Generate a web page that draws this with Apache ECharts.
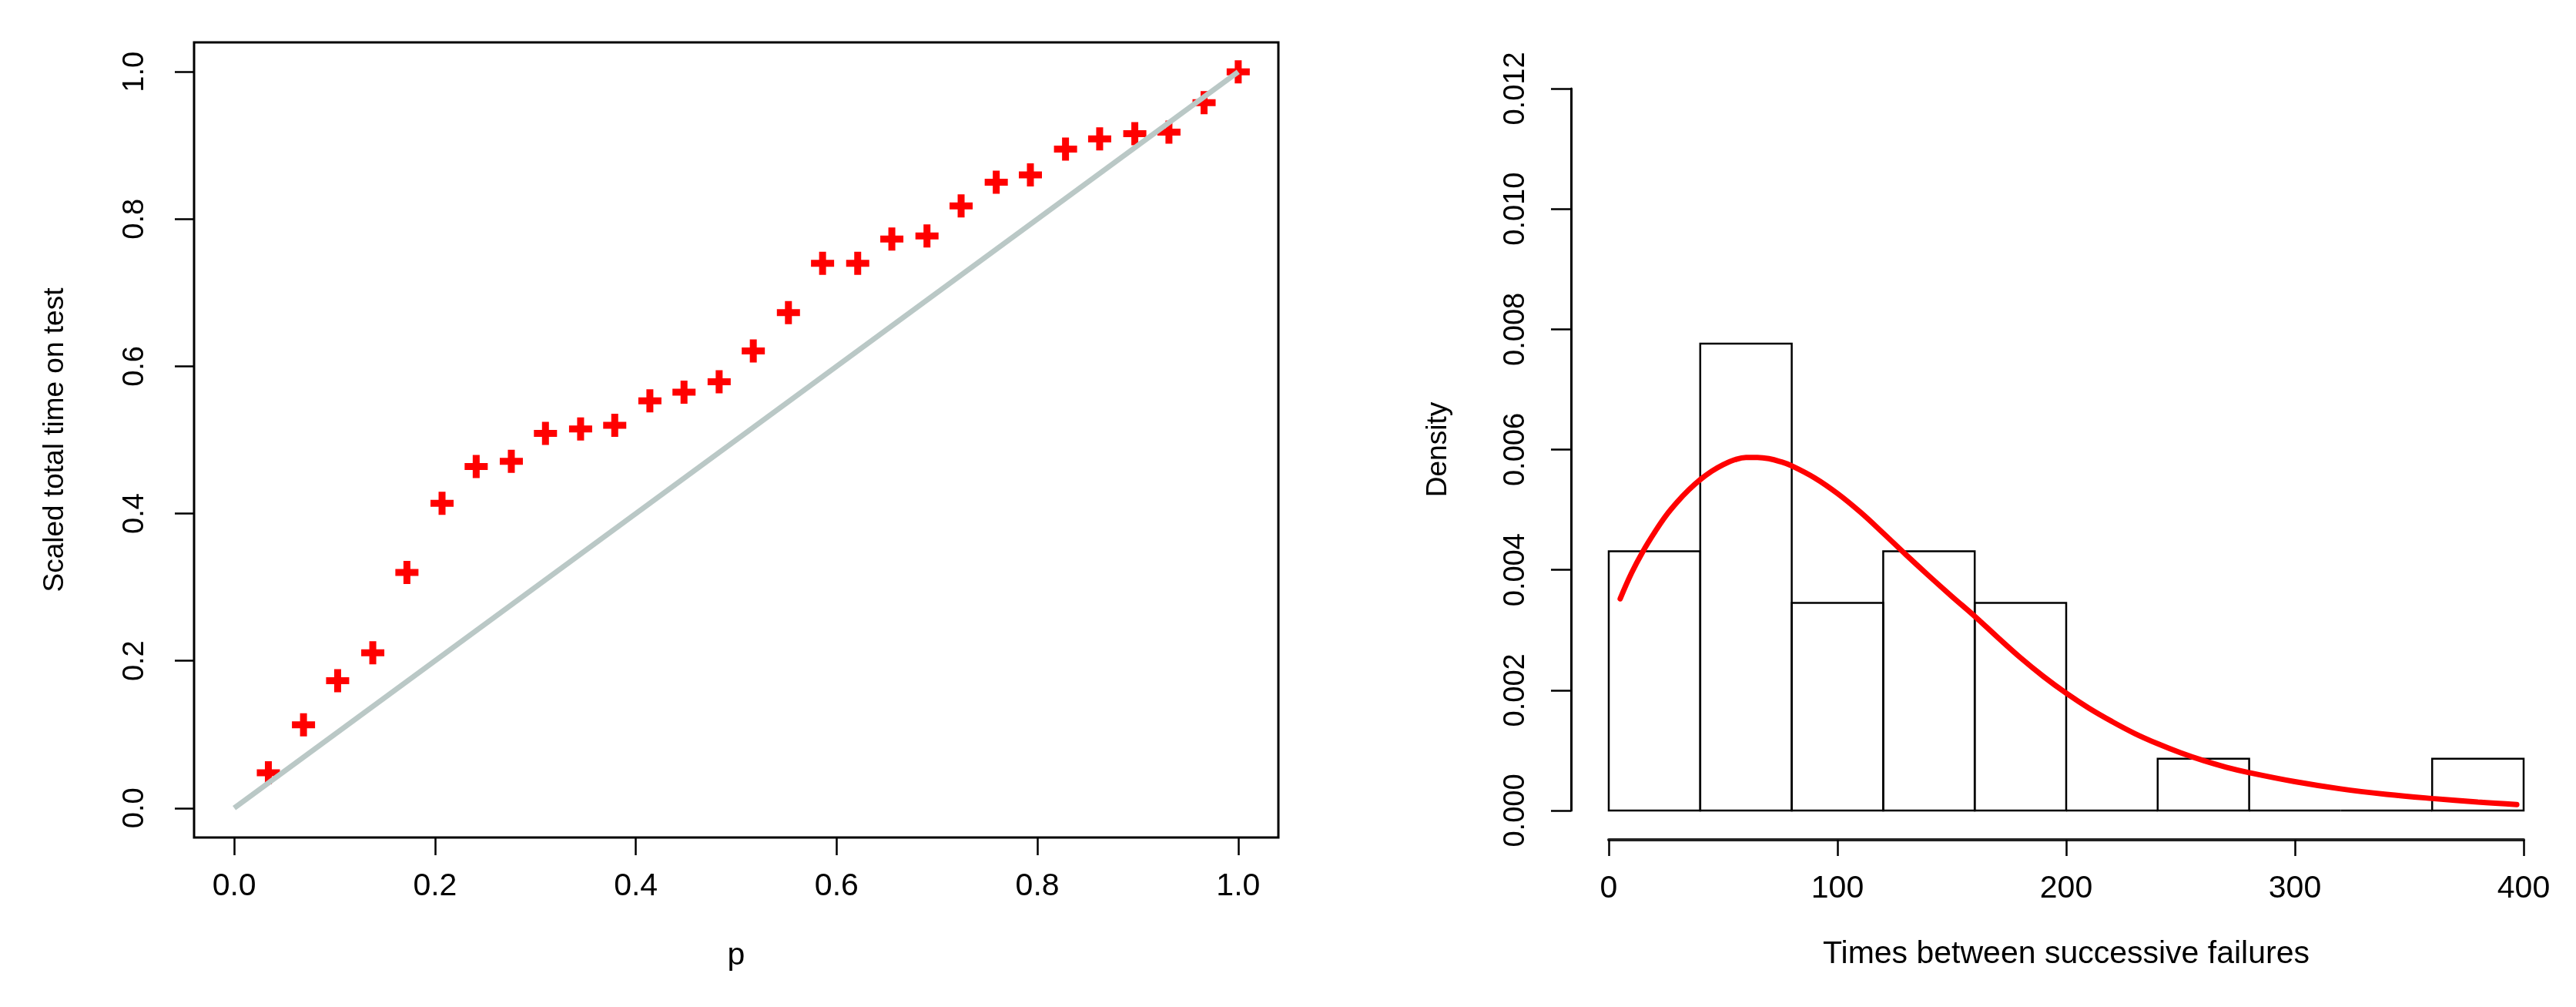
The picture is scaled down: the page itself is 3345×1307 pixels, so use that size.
<!DOCTYPE html>
<html>
<head>
<meta charset="utf-8">
<script src="https://cdn.jsdelivr.net/npm/echarts@6/dist/echarts.min.js"></script>
<style>
html,body{margin:0;padding:0;background:#fff;}
#chart{width:3345px;height:1307px;}
</style>
</head>
<body>
<div id="chart"></div>
<script>
// ---------- Left panel: scaled TTT plot ----------
const pValues = [0.034,0.069,0.103,0.138,0.172,0.207,0.241,0.276,0.310,0.345,0.379,0.414,0.448,0.483,0.517,0.552,0.586,0.621,0.655,0.690,0.724,0.759,0.793,0.828,0.862,0.897,0.931,0.966,1.000];
const tttValues = [0.048,0.113,0.173,0.211,0.320,0.414,0.464,0.471,0.509,0.515,0.520,0.553,0.565,0.579,0.621,0.673,0.740,0.740,0.773,0.777,0.818,0.850,0.860,0.895,0.909,0.916,0.918,0.958,1.000];
const diagX = [0, 1];
const diagY = [0, 1];
const pTicks = [0, 0.2, 0.4, 0.6, 0.8, 1.0];
const tttTicks = [0, 0.2, 0.4, 0.6, 0.8, 1.0];

// ---------- Right panel: histogram + fitted density ----------
const binStart = [0, 40, 80, 120, 160, 200, 240, 280, 320, 360];
const binEnd   = [40, 80, 120, 160, 200, 240, 280, 320, 360, 400];
const binDensity = [0.00431, 0.00776, 0.00345, 0.00431, 0.00345, 0, 0.00086, 0, 0, 0.00086];
const curveX = [5,10,15,20,25,30,35,40,45,50,55,60,65,70,75,80,90,100,110,120,130,140,150,160,170,180,190,200,210,220,230,240,250,260,270,280,300,320,340,360,380,397];
const curveY = [0.00352,0.00395,0.00431,0.00462,0.00490,0.00513,0.00533,0.00550,0.00564,0.00575,0.00583,0.00587,0.00587,0.00585,0.00580,0.00573,0.00553,0.00527,0.00496,0.00461,0.00425,0.00390,0.00356,0.00323,0.00288,0.00254,0.00223,0.00195,0.00170,0.00148,0.00128,0.00111,0.00096,0.00083,0.00072,0.00063,0.00048,0.00036,0.00027,0.00020,0.00014,0.00010];
const timeTicksInterval = 100;
const densityTicksInterval = 0.002;

const FONT = 'Liberation Sans, Arial, Helvetica, sans-serif';

const scatterData = pValues.map((p, i) => [p, tttValues[i]]);
const diagData = diagX.map((x, i) => [x, diagY[i]]);
const histData = binStart.map((s, i) => [s, binEnd[i], binDensity[i]]);
const curveData = curveX.map((x, i) => [x, curveY[i]]);

const plusPath = 'path://M3.5,0h3v3.5h3.5v3h-3.5v3.5h-3v-3.5h-3.5v-3h3.5z';

const chart = echarts.init(document.getElementById('chart'), null, {renderer: 'canvas'});

const option = {
  backgroundColor: '#ffffff',
  animation: false,
  textStyle: {fontFamily: FONT, color: '#000'},
  grid: [
    {left: 252, right: 1685, top: 55, bottom: 220, show: true, borderColor: '#000', borderWidth: 3, backgroundColor: 'transparent', outerBoundsMode: 'none', containLabel: false},
    {left: 2089, right: 68, top: 115, bottom: 255, show: false, outerBoundsMode: 'none', containLabel: false}
  ],
  xAxis: [
    {
      type: 'value', gridIndex: 0, min: -0.04, max: 1.04,
      axisLine: {show: false, onZero: false},
      axisTick: {show: true, customValues: pTicks, length: 23, lineStyle: {color: '#000', width: 2.5}},
      axisLabel: {customValues: pTicks, formatter: v => v.toFixed(1), fontSize: 41, margin: 43, color: '#000', fontFamily: FONT},
      splitLine: {show: false},
      name: 'p', nameLocation: 'middle', nameGap: 133, nameMoveOverlap: false,
      nameTextStyle: {fontSize: 41, color: '#000', fontFamily: FONT}
    },
    {
      type: 'value', gridIndex: 1, min: 0, max: 400, interval: timeTicksInterval, offset: 38,
      axisLine: {show: true, onZero: false, lineStyle: {color: '#222', width: 4}},
      axisTick: {show: true, length: 21, lineStyle: {color: '#000', width: 2.5}},
      axisLabel: {fontSize: 41, margin: 43, color: '#000', fontFamily: FONT, showMinLabel: true, showMaxLabel: true},
      splitLine: {show: false},
      name: 'Times between successive failures', nameLocation: 'middle', nameGap: 128, nameMoveOverlap: false,
      nameTextStyle: {fontSize: 41, color: '#000', fontFamily: FONT}
    }
  ],
  yAxis: [
    {
      type: 'value', gridIndex: 0, min: -0.04, max: 1.04,
      axisLine: {show: false, onZero: false},
      axisTick: {show: true, customValues: tttTicks, length: 25, lineStyle: {color: '#000', width: 2.5}},
      axisLabel: {customValues: tttTicks, formatter: v => v.toFixed(1), fontSize: 38, rotate: 90, margin: 57, color: '#000', fontFamily: FONT},
      splitLine: {show: false},
      name: 'Scaled total time on test', nameLocation: 'middle', nameGap: 162, nameRotate: 90, nameMoveOverlap: false,
      nameTextStyle: {fontSize: 37, color: '#000', fontFamily: FONT}
    },
    {
      type: 'value', gridIndex: 1, min: 0, max: 0.012, interval: densityTicksInterval, offset: 49,
      axisLine: {show: true, onZero: false, lineStyle: {color: '#000', width: 3}},
      axisTick: {show: true, length: 26, lineStyle: {color: '#000', width: 2.5}},
      axisLabel: {formatter: v => v.toFixed(3), fontSize: 38, rotate: 90, margin: 52, color: '#000', fontFamily: FONT, showMinLabel: true, showMaxLabel: true},
      splitLine: {show: false},
      name: 'Density', nameLocation: 'middle', nameGap: 154, nameRotate: 90, nameMoveOverlap: false,
      nameTextStyle: {fontSize: 37, color: '#000', fontFamily: FONT}
    }
  ],
  series: [
    {
      type: 'scatter', xAxisIndex: 0, yAxisIndex: 0, data: scatterData,
      symbol: plusPath, symbolSize: 30,
      itemStyle: {color: '#ff0000', opacity: 1},
      z: 2, silent: true
    },
    {
      type: 'line', xAxisIndex: 0, yAxisIndex: 0, data: diagData,
      symbol: 'none', lineStyle: {color: '#bac8c6', width: 7, cap: 'butt'},
      z: 3, silent: true
    },
    {
      type: 'custom', xAxisIndex: 1, yAxisIndex: 1, data: histData,
      encode: {x: [0, 1], y: 2},
      renderItem: function (params, api) {
        const p0 = api.coord([api.value(0), api.value(2)]);
        const p1 = api.coord([api.value(1), 0]);
        return {
          type: 'rect',
          shape: {x: p0[0], y: p0[1], width: p1[0] - p0[0], height: p1[1] - p0[1]},
          style: {fill: 'none', stroke: '#000', lineWidth: 2.5}
        };
      },
      z: 2, silent: true
    },
    {
      type: 'line', xAxisIndex: 1, yAxisIndex: 1, data: curveData,
      symbol: 'none', smooth: 0.4,
      lineStyle: {color: '#ff0000', width: 7, cap: 'round'},
      z: 3, silent: true
    }
  ]
};

chart.setOption(option);
</script>
</body>
</html>
